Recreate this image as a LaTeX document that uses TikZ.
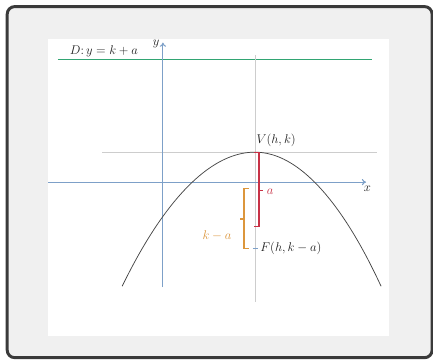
\documentclass[tikz,border=0pt]{standalone}
\usetikzlibrary{arrows.meta}

\definecolor{pbtext}{RGB}{30,30,30}
\definecolor{pbframe}{RGB}{58,58,58}
\definecolor{pbback}{RGB}{240,240,240}
\definecolor{pbaxis}{RGB}{125,160,200}
\definecolor{pbguide}{RGB}{205,205,205}
\definecolor{pbgreen}{RGB}{50,165,115}
\definecolor{pbcurve}{RGB}{70,70,70}
\definecolor{pbred}{RGB}{200,50,70}
\definecolor{pborange}{RGB}{220,150,60}

\begin{document}
\begin{tikzpicture}[
  x=1cm,
  y=1cm,
  >={To[length=4pt,width=6pt]},
  every node/.style={inner sep=0pt, outer sep=0pt},
  pbLabel/.style={font=\fontsize{11.5}{13}\selectfont, text=pbtext},
  pbFrame/.style={draw=pbframe, fill=pbback, line width=2.8pt, rounded corners=0.25cm},
  pbAxis/.style={draw=pbaxis, line width=1pt, ->},
  pbGuide/.style={draw=pbguide, line width=1pt},
  pbDirectrix/.style={draw=pbgreen, line width=1.1pt},
  pbCurve/.style={draw=pbcurve, line width=0.7pt},
  pbBraceA/.style={draw=pbred, line width=1.1pt},
  pbBraceB/.style={draw=pborange, line width=1.1pt}
]

  \path[use as bounding box] (0,0) rectangle (14.43,11.97);

  % frame and white page
  \draw[pbFrame] (0.24,0.05) rectangle (14.40,11.75);
  \fill[white] (1.60,0.77) rectangle (12.97,10.67);

  % directrix
  \coordinate (dirL) at (1.93,10.00);
  \coordinate (dirR) at (12.40,10.00);
  \draw[pbDirectrix] (dirL) -- (dirR);
  \node[pbLabel, anchor=west] (dirLabel) at (2.33,10.25) {$D\colon y=k+a$};

  % guide lines through the vertex
  \coordinate (vTop) at (8.50,10.13);
  \coordinate (vBot) at (8.50,1.90);
  \coordinate (hLeft) at (3.40,6.90);
  \coordinate (hRight) at (12.57,6.90);
  \draw[pbGuide] (vTop) -- (vBot);
  \draw[pbGuide] (hLeft) -- (hRight);

  % axes
  \coordinate (xStart) at (1.60,5.90);
  \coordinate (xEnd) at (12.20,5.90);
  \coordinate (yStart) at (5.43,2.40);
  \coordinate (yEnd) at (5.43,10.55);
  \draw[pbAxis] (xStart) -- (xEnd);
  \draw[pbAxis] (yStart) -- (yEnd);
  \node[pbLabel] (xLabel) at (12.24,5.68) {$x$};
  \node[pbLabel] (yLabel) at (5.20,10.52) {$y$};

  % parabola
  \coordinate (parL) at (4.07,2.43);
  \coordinate (vertex) at (8.50,6.90);
  \coordinate (parR) at (12.70,2.43);
  \draw[pbCurve] (parL) parabola bend (vertex) (parR);
  \node[pbLabel, anchor=west] (vLabel) at (8.55,7.28) {$V(h,k)$};

  % a
  \coordinate (aTop) at (8.63,6.90);
  \coordinate (aMid) at (8.63,5.63);
  \coordinate (aBot) at (8.63,4.43);
  \draw[pbBraceA] ([xshift=-0.16cm]aTop) -- (aTop) -- (aBot) -- ([xshift=-0.16cm]aBot);
  \draw[pbBraceA] (aMid) -- ++(0.13,0);
  \node[pbLabel, text=pbred] (aLabel) at (9.00,5.58) {$a$};

  % k - a
  \coordinate (kTop) at (8.13,5.70);
  \coordinate (kMid) at (8.13,4.67);
  \coordinate (kBot) at (8.13,3.70);
  \draw[pbBraceB] ([xshift=0.17cm]kTop) -- (kTop) -- (kBot) -- ([xshift=0.17cm]kBot);
  \draw[pbBraceB] (kMid) -- ++(-0.13,0);
  \node[pbLabel, text=pborange] (kLabel) at (7.23,4.13) {$k-a$};

  % focus
  \coordinate (focus) at (8.43,3.70);
  \draw[pbAxis, -] (focus) -- ++(0.17,0);
  \node[pbLabel, anchor=west] (fLabel) at (8.68,3.70) {$F(h,k-a)$};

\end{tikzpicture}
\end{document}
